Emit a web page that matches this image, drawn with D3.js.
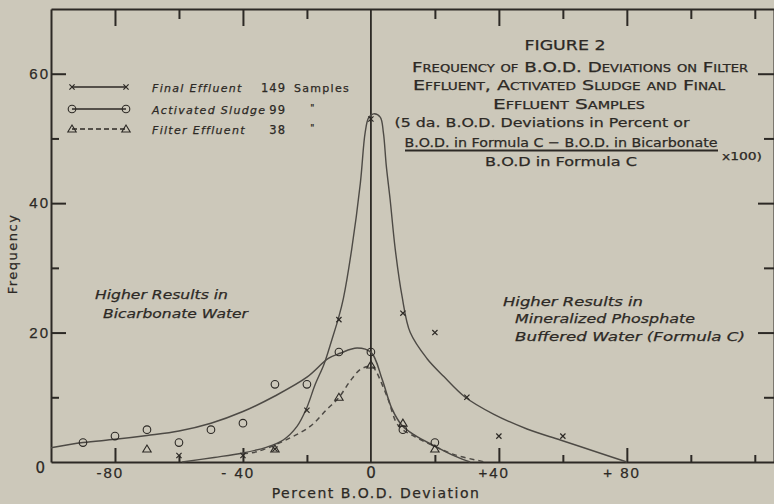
<!DOCTYPE html>
<html>
<head>
<meta charset="utf-8">
<script src="https://cdn.jsdelivr.net/npm/d3@7"></script>
<style>
body { margin: 0; background: #ccc8ba; }
svg { display: block; font-family: "DejaVu Sans", sans-serif; }
svg text { stroke: #2c2925; stroke-width: 0.25px; }
</style>
</head>
<body>
<svg id="chart" width="774" height="504"></svg>
<script>
// axis ticks
var xMajor = [-80, -40, 40, 80];
var xMajorLabels = ["-80", "- 40", "+40", "+ 80"];
var xMinor = [-60, -20, 20, 60, 100, 120];
var yMajor = [20, 40, 60];
var yMinor = [10, 30, 50];

// plotted points (percent deviation, frequency)
var finalX = [-60, -40, -30, -20, -10, 0, 10, 20, 30, 40, 60];
var finalY = [1, 1, 2, 8, 22, 53, 23, 20, 10, 4, 4];
var sludgeX = [-90, -80, -70, -60, -50, -40, -30, -20, -10, 0, 10, 20];
var sludgeY = [3, 4, 5, 3, 5, 6, 12, 12, 17, 17, 5, 3];
var filterX = [-70, -30, -10, 0, 10, 20];
var filterY = [2, 2, 10, 15, 6, 2];

// hand drawn curves
var finalCurveX = [-59, -49, -40, -32.5, -27.4, -23.1, -20.2, -17.4, -14.6, -12.2, -10.1, -8.6, -6, -3.3, -1.8, -0.7, 0.8, 2.9, 3.9, 4.8, 6, 7.6, 9.7, 12.3, 17.5, 22.8, 29.5, 38.3, 48.8, 59.2, 69.6, 80];
var finalCurveY = [0, 0.7, 1.4, 2.3, 3.4, 5.5, 8.2, 12.0, 15.2, 18.9, 22.3, 25.3, 32.9, 43.1, 50.9, 53.2, 53.8, 53.3, 50.9, 45.8, 40.6, 32.9, 25.7, 20.0, 16.0, 13.2, 10.0, 7.4, 5.1, 3.4, 1.7, 0];
var sludgeCurveX = [-100, -90, -80, -70, -60, -50, -40, -30, -20, -13.3, -9.6, -4.3, 0.1, 3.5, 6.6, 9.8, 13.8, 19.4, 26.3, 31];
var sludgeCurveY = [2.2, 3.0, 3.5, 4.1, 4.8, 6.0, 7.8, 10.2, 13.1, 16.0, 16.8, 17.6, 16.9, 12.8, 8.2, 5.6, 4.1, 2.6, 0.9, 0];
var filterCurveX = [-40, -35.6, -26.2, -19, -13.8, -10.1, -6.5, -3.3, -0.2, 0.8, 5, 8.6, 13.8, 20, 26.3, 35.7];
var filterCurveY = [1.3, 1.6, 3.5, 5.5, 8.1, 9.9, 12.5, 14.3, 14.8, 14.6, 10.2, 5.6, 3.9, 2.4, 1.1, 0];

var legendNames = ["Final  Effluent", "Activated  Sludge", "Filter  Effluent"];
var legendCounts = ["149", "99", "38"];

var ink = "#2c2925";
var pen = "#4d4a45";

var svg = d3.select("#chart");

var x = d3.scaleLinear().domain([-100, 126]).range([51, 774]);
var y = d3.scaleLinear().domain([0, 70]).range([462, 9]);

function zip(a, b) { return a.map(function(v, i) { return [v, b[i]]; }); }

// axes: ticks point into the plot
function styleAxis(g) {
  g.selectAll("path, line").attr("stroke", ink).attr("stroke-width", 2);
  g.selectAll("text").attr("fill", ink).style("font-size", "15px").style("letter-spacing", "2px");
}

svg.append("g").attr("transform", "translate(0," + y(0) + ")")
  .call(d3.axisBottom(x).tickValues(xMajor).tickSize(-14).tickSizeOuter(0).tickPadding(5)
    .tickFormat(function(d, i) { return xMajorLabels[i]; }))
  .call(styleAxis)
  .call(function(g) { g.selectAll("text").attr("dx", "-0.35em"); });

svg.append("g").attr("transform", "translate(0," + y(0) + ")")
  .call(d3.axisBottom(x).tickValues(xMinor).tickSize(-7).tickFormat(""))
  .call(styleAxis)
  .call(function(g) { g.select(".domain").remove(); });

// the 0 label under the centre line
svg.append("text").attr("x", x(0)).attr("y", 478).attr("text-anchor", "middle")
  .attr("fill", ink).style("font-size", "15px").text("0");

svg.append("g").attr("transform", "translate(0," + y(70) + ")")
  .call(d3.axisTop(x).tickValues(xMajor).tickSize(-17).tickSizeOuter(0).tickFormat(""))
  .call(styleAxis);
svg.append("g").attr("transform", "translate(0," + y(70) + ")")
  .call(d3.axisTop(x).tickValues(xMinor).tickSize(-10).tickFormat(""))
  .call(styleAxis)
  .call(function(g) { g.select(".domain").remove(); });

svg.append("g").attr("transform", "translate(" + x(-100) + ",0)")
  .call(d3.axisLeft(y).tickValues(yMajor).tickSize(-15).tickSizeOuter(0).tickPadding(1))
  .call(styleAxis);
svg.append("g").attr("transform", "translate(" + x(-100) + ",0)")
  .call(d3.axisLeft(y).tickValues(yMinor).tickSize(-8).tickFormat(""))
  .call(styleAxis)
  .call(function(g) { g.select(".domain").remove(); });
svg.append("text").attr("x", 45).attr("y", 473).attr("text-anchor", "end")
  .attr("fill", ink).style("font-size", "15px").text("0");

svg.append("g").attr("transform", "translate(" + x(126) + ",0)")
  .call(d3.axisRight(y).tickValues(yMajor).tickSize(-16).tickSizeOuter(0).tickFormat(""))
  .call(styleAxis);
svg.append("g").attr("transform", "translate(" + x(126) + ",0)")
  .call(d3.axisRight(y).tickValues(yMinor).tickSize(-10).tickFormat(""))
  .call(styleAxis)
  .call(function(g) { g.select(".domain").remove(); });

// zero line
svg.append("line")
  .attr("x1", x(0)).attr("x2", x(0)).attr("y1", y(70)).attr("y2", y(0))
  .attr("stroke", ink).attr("stroke-width", 1.8);

// axis titles
svg.append("text").attr("x", 376).attr("y", 498).attr("text-anchor", "middle")
  .attr("fill", ink).style("font-size", "14px").style("letter-spacing", "1.5px")
  .text("Percent  B.O.D.  Deviation");
svg.append("text").attr("transform", "translate(17,254) rotate(-90)").attr("text-anchor", "middle")
  .attr("fill", ink).style("font-size", "13px").style("letter-spacing", "1.5px")
  .text("Frequency");

// curves
var line = d3.line().x(function(d) { return x(d[0]); }).y(function(d) { return y(d[1]); })
  .curve(d3.curveCatmullRom.alpha(0.5));

svg.append("path").datum(zip(finalCurveX, finalCurveY)).attr("d", line)
  .attr("fill", "none").attr("stroke", pen).attr("stroke-width", 1.4);
svg.append("path").datum(zip(sludgeCurveX, sludgeCurveY)).attr("d", line)
  .attr("fill", "none").attr("stroke", pen).attr("stroke-width", 1.5);
svg.append("path").datum(zip(filterCurveX, filterCurveY)).attr("d", line)
  .attr("fill", "none").attr("stroke", pen).attr("stroke-width", 1.5)
  .attr("stroke-dasharray", "5,4");

// markers
function crossMark(sel) {
  sel.append("path").attr("d", "M-2.6,-2.6L2.6,2.6M-2.6,2.6L2.6,-2.6")
    .attr("stroke", ink).attr("stroke-width", 1.2).attr("fill", "none");
}
function ringMark(sel) {
  sel.append("circle").attr("r", 3.8).attr("fill", "none")
    .attr("stroke", ink).attr("stroke-width", 1.1);
}
function triMark(sel) {
  sel.append("path").attr("d", "M-4.2,3L4.2,3L0,-4Z")
    .attr("fill", "none").attr("stroke", ink).attr("stroke-width", 1.1);
}

function points(xs, ys, mark) {
  svg.append("g").selectAll("g").data(zip(xs, ys)).enter().append("g")
    .attr("transform", function(d) { return "translate(" + x(d[0]) + "," + y(d[1]) + ")"; })
    .call(mark);
}
points(sludgeX, sludgeY, ringMark);
points(filterX, filterY, triMark);
points(finalX, finalY, crossMark);

// legend
var legendY = [87, 109, 129];
var legendMarks = [crossMark, ringMark, triMark];
legendY.forEach(function(ly, i) {
  var g = svg.append("g");
  g.append("line").attr("x1", 72).attr("x2", 126).attr("y1", ly).attr("y2", ly)
    .attr("stroke", ink).attr("stroke-width", 1.6)
    .attr("stroke-dasharray", i == 2 ? "5,3" : null);
  g.append("g").attr("transform", "translate(72," + ly + ")").call(legendMarks[i]);
  g.append("g").attr("transform", "translate(126," + ly + ")").call(legendMarks[i]);
  g.append("text").attr("x", 152).attr("y", ly + 4.5).attr("fill", ink)
    .style("font-size", "11px").style("font-style", "italic").style("letter-spacing", "1.3px")
    .text(legendNames[i]);
  g.append("text").attr("x", 286).attr("y", ly + 4.5).attr("text-anchor", "end").attr("fill", ink)
    .style("font-size", "11.5px").style("letter-spacing", "1px")
    .text(legendCounts[i]);
  g.append("text").attr("x", i == 0 ? 294 : 313).attr("y", ly + (i == 0 ? 4.5 : 2))
    .attr("text-anchor", i == 0 ? "start" : "middle").attr("fill", ink)
    .style("font-size", i == 0 ? "11px" : "9px").style("letter-spacing", "1.3px")
    .text(i == 0 ? "Samples" : "\"");
});

// figure title block
function label(tx, ty, str, size, len, opts) {
  opts = opts || {};
  var t = svg.append("text").attr("x", tx).attr("y", ty).attr("fill", ink)
    .attr("text-anchor", opts.anchor || "middle")
    .style("font-size", size + "px")
    .text(str);
  if (len) t.attr("textLength", len).attr("lengthAdjust", "spacingAndGlyphs");
  if (opts.caps) t.style("font-variant", "small-caps");
  if (opts.italic) t.style("font-style", "italic");
  return t;
}
label(565, 50, "FIGURE  2", 14, 81);
label(580, 72, "Frequency of B.O.D. Deviations on Filter", 14, 336, { caps: true });
label(569, 90, "Effluent, Activated Sludge and Final", 14, 312, { caps: true });
label(569, 109, "Effluent Samples", 14, 152, { caps: true });
label(542, 127, "(5 da. B.O.D. Deviations in Percent or", 13, 295);
label(561, 147, "B.O.D. in Formula C \u2212 B.O.D. in Bicarbonate", 13, 313);
svg.append("line").attr("x1", 405).attr("x2", 718).attr("y1", 150.5).attr("y2", 150.5)
  .attr("stroke", ink).attr("stroke-width", 1.8);
label(561, 166, "B.O.D in Formula C", 13, 152);
label(722, 160, "x100)", 11, 40, { anchor: "start" });

// side notes
label(95, 299, "Higher Results in", 13, 133, { anchor: "start", italic: true });
label(103, 318, "Bicarbonate Water", 13, 145, { anchor: "start", italic: true });
label(503, 306, "Higher Results in", 13, 140, { anchor: "start", italic: true });
label(515, 323, "Mineralized Phosphate", 13, 180, { anchor: "start", italic: true });
label(515, 341, "Buffered Water (Formula C)", 13, 230, { anchor: "start", italic: true });
</script>
</body>
</html>
